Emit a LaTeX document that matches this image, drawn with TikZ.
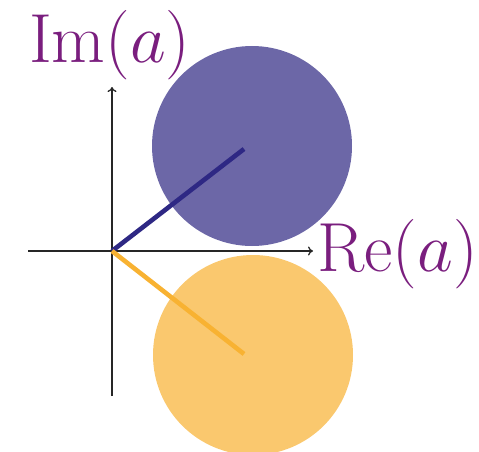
\RequirePackage{fix-cm}
\documentclass[tikz,border=0pt]{standalone}
\usetikzlibrary{arrows.meta}
\definecolor{blobpurple}{HTML}{6C67A7}
\definecolor{linepurple}{HTML}{2E2884}
\definecolor{blobyellow}{HTML}{FAC86E}
\definecolor{lineyellow}{HTML}{F8B232}
\definecolor{labelpurple}{HTML}{7A1E7E}
\tikzset{
  blob/.style={circle, inner sep=0pt, minimum size=200pt},
  axis/.style={line width=1.3pt, draw=black!85, -{To[length=5pt,width=9pt]}},
  ray/.style={line width=4.6pt},
  lbl/.style={text=labelpurple, anchor=base west, inner sep=0pt, font=\fontsize{69.5}{72}\selectfont}
}
\begin{document}
\begin{tikzpicture}[x=1pt,y=-1pt]
\useasboundingbox (0,0) rectangle (479,452);
\node[blob, fill=blobpurple] (up) at (252,146) {};
\node[blob, fill=blobyellow] (down) at (253,355) {};
\coordinate (o) at (112,251);
\coordinate (xl) at (28,251);
\coordinate (xr) at (313,251);
\coordinate (yb) at (112,396);
\coordinate (yt) at (112,87);
\draw[axis] (xl) -- (xr);
\draw[axis] (yb) -- (yt);
\coordinate (pu) at (244,149);
\coordinate (pd) at (244,354);
\draw[ray, draw=linepurple] (o) -- (pu);
\draw[ray, draw=lineyellow] (o) -- (pd);
\node[lbl] (im) at (29,63) {$\mathrm{Im}(a)$};
\node[lbl] (re) at (317,271) {$\mathrm{Re}(a)$};
\end{tikzpicture}
\end{document}
